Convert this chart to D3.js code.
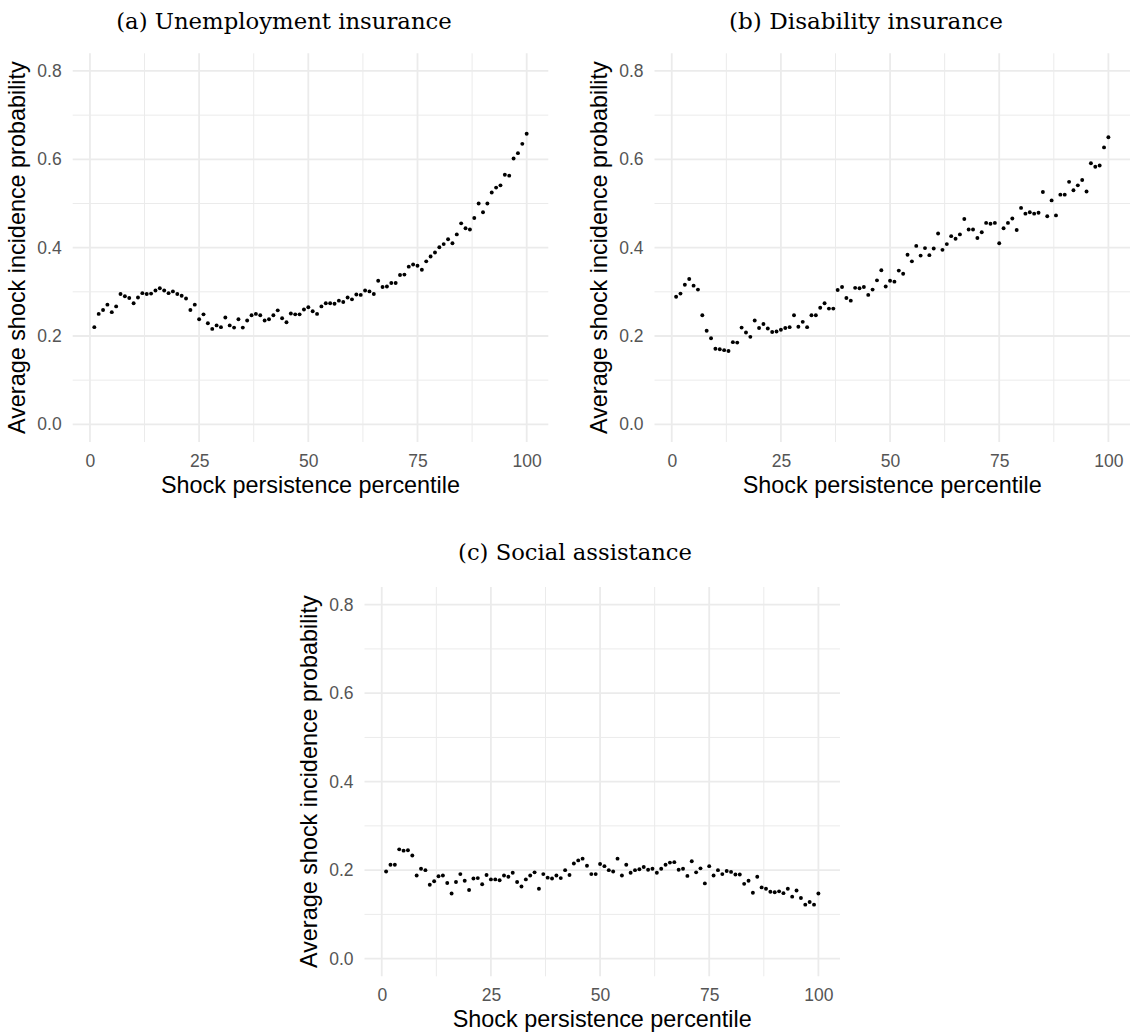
<!DOCTYPE html>
<html>
<head>
<meta charset="utf-8">
<script src="https://cdn.jsdelivr.net/npm/d3@7"></script>
<style>
  body { margin: 0; background: #fff; }
  svg { display: block; }
  .tick text { fill: #555; font-family: "Liberation Sans", Arial, sans-serif; }
  .axis-title { fill: #000; font-family: "Liberation Sans", Arial, sans-serif; }
  .panel-title { fill: #000; font-family: "DejaVu Serif", "Liberation Serif", serif; }
</style>
</head>
<body>
<svg id="chart"></svg>
<script>
// percentile of shock persistence (x axis)
const percentile = d3.range(1, 101);

// average shock incidence probability
const unemployment = [
  0.220, 0.250, 0.259, 0.271, 0.254, 0.267, 0.295, 0.290, 0.286, 0.274,
  0.287, 0.297, 0.295, 0.296, 0.303, 0.308, 0.303, 0.297, 0.301, 0.295,
  0.291, 0.285, 0.259, 0.271, 0.238, 0.249, 0.229, 0.216, 0.224, 0.220,
  0.242, 0.224, 0.219, 0.238, 0.219, 0.235, 0.247, 0.250, 0.247, 0.235,
  0.238, 0.247, 0.258, 0.240, 0.231, 0.251, 0.249, 0.249, 0.260, 0.265,
  0.256, 0.250, 0.267, 0.274, 0.274, 0.273, 0.280, 0.277, 0.287, 0.283,
  0.294, 0.293, 0.303, 0.301, 0.295, 0.325, 0.311, 0.312, 0.320, 0.320,
  0.338, 0.339, 0.357, 0.362, 0.359, 0.350, 0.369, 0.380, 0.389, 0.401,
  0.408, 0.419, 0.410, 0.430, 0.455, 0.444, 0.441, 0.467, 0.500, 0.480,
  0.500, 0.525, 0.536, 0.541, 0.565, 0.563, 0.602, 0.614, 0.635, 0.658
];

const disability = [
  0.289, 0.296, 0.316, 0.329, 0.314, 0.305, 0.247, 0.212, 0.195, 0.171,
  0.170, 0.168, 0.166, 0.186, 0.185, 0.219, 0.208, 0.198, 0.235, 0.218,
  0.227, 0.217, 0.209, 0.210, 0.214, 0.218, 0.220, 0.247, 0.221, 0.232,
  0.220, 0.247, 0.247, 0.264, 0.274, 0.262, 0.262, 0.304, 0.311, 0.286,
  0.280, 0.309, 0.308, 0.311, 0.293, 0.305, 0.326, 0.349, 0.312, 0.325,
  0.323, 0.348, 0.341, 0.384, 0.369, 0.404, 0.382, 0.399, 0.383, 0.398,
  0.432, 0.395, 0.408, 0.426, 0.420, 0.430, 0.465, 0.441, 0.441, 0.422,
  0.435, 0.456, 0.454, 0.456, 0.410, 0.444, 0.456, 0.466, 0.440, 0.490,
  0.477, 0.480, 0.477, 0.479, 0.526, 0.471, 0.507, 0.473, 0.520, 0.520,
  0.549, 0.530, 0.541, 0.553, 0.527, 0.591, 0.583, 0.586, 0.627, 0.650
];

const socialAssistance = [
  0.197, 0.212, 0.212, 0.247, 0.244, 0.245, 0.233, 0.188, 0.203, 0.200,
  0.167, 0.175, 0.186, 0.188, 0.171, 0.147, 0.173, 0.191, 0.176, 0.155,
  0.181, 0.182, 0.168, 0.189, 0.179, 0.179, 0.177, 0.188, 0.185, 0.194,
  0.173, 0.163, 0.179, 0.188, 0.195, 0.158, 0.191, 0.183, 0.181, 0.188,
  0.182, 0.200, 0.189, 0.215, 0.222, 0.226, 0.210, 0.191, 0.191, 0.214,
  0.209, 0.200, 0.197, 0.226, 0.188, 0.212, 0.194, 0.200, 0.202, 0.207,
  0.201, 0.203, 0.194, 0.203, 0.212, 0.217, 0.218, 0.201, 0.203, 0.187,
  0.220, 0.195, 0.204, 0.170, 0.209, 0.188, 0.200, 0.191, 0.198, 0.196,
  0.190, 0.190, 0.169, 0.176, 0.149, 0.185, 0.161, 0.158, 0.151, 0.150,
  0.152, 0.148, 0.158, 0.140, 0.154, 0.137, 0.122, 0.128, 0.122, 0.147
];

const panelTitles = ['(a) Unemployment insurance', '(b) Disability insurance', '(c) Social assistance'];
const xTitle = 'Shock persistence percentile';
const yTitle = 'Average shock incidence probability';
const xMajor = [0, 25, 50, 75, 100];
const xMinor = [12.5, 37.5, 62.5, 87.5];
const yMajor = [0, 0.2, 0.4, 0.6, 0.8];
const yMinor = [0.1, 0.3, 0.5, 0.7];

const width = 1130, height = 1036;
const svg = d3.select('#chart').attr('width', width).attr('height', height);

// panel boxes (plot area) and title placement
const panels = [
  {values: unemployment, left: 72.7, right: 548.3, top: 53.3, bottom: 442, titleX: 284, titleY: 28.5, titleW: 336},
  {values: disability, left: 654.5, right: 1130, top: 53.3, bottom: 442, titleX: 866, titleY: 28.5, titleW: 274},
  {values: socialAssistance, left: 364.5, right: 840, top: 587, bottom: 976.3, titleX: 575, titleY: 560, titleW: 234}
];

panels.forEach((p, i) => drawPanel(p, panelTitles[i]));

function drawPanel(p, title) {
  // ggplot default: 5% expansion on each side (x: 1..100, y limits 0..0.8)
  const x = d3.scaleLinear().domain([1 - 0.05 * 99, 100 + 0.05 * 99]).range([p.left, p.right]);
  const y = d3.scaleLinear().domain([-0.04, 0.84]).range([p.bottom, p.top]);

  const g = svg.append('g');

  // grid
  g.selectAll('.vminor').data(xMinor).join('line')
      .attr('x1', d => x(d)).attr('x2', d => x(d))
      .attr('y1', p.top).attr('y2', p.bottom)
      .attr('stroke', '#ebebeb').attr('stroke-width', 1);
  g.selectAll('.hminor').data(yMinor).join('line')
      .attr('x1', p.left).attr('x2', p.right)
      .attr('y1', d => y(d)).attr('y2', d => y(d))
      .attr('stroke', '#ebebeb').attr('stroke-width', 1);
  g.selectAll('.vmajor').data(xMajor).join('line')
      .attr('x1', d => x(d)).attr('x2', d => x(d))
      .attr('y1', p.top).attr('y2', p.bottom)
      .attr('stroke', '#ebebeb').attr('stroke-width', 1.8);
  g.selectAll('.hmajor').data(yMajor).join('line')
      .attr('x1', p.left).attr('x2', p.right)
      .attr('y1', d => y(d)).attr('y2', d => y(d))
      .attr('stroke', '#ebebeb').attr('stroke-width', 1.8);

  // axes (no ticks, no domain line)
  const xAxis = g.append('g')
      .attr('transform', `translate(0,${p.bottom})`)
      .call(d3.axisBottom(x).tickValues(xMajor).tickSize(0).tickPadding(12.5).tickFormat(d3.format('d')));
  xAxis.select('.domain').remove();
  xAxis.selectAll('text').style('font-size', '17.5px');

  const yAxis = g.append('g')
      .attr('transform', `translate(${p.left},0)`)
      .call(d3.axisLeft(y).tickValues(yMajor).tickSize(0).tickPadding(11).tickFormat(d3.format('.1f')));
  yAxis.select('.domain').remove();
  yAxis.selectAll('text').style('font-size', '17.5px');

  // points
  g.selectAll('circle')
      .data(percentile.map((d, j) => [d, p.values[j]]))
      .join('circle')
      .attr('cx', d => x(d[0]))
      .attr('cy', d => y(d[1]))
      .attr('r', 1.95)
      .attr('fill', '#000');

  // axis titles
  g.append('text')
      .attr('class', 'axis-title')
      .attr('x', (p.left + p.right) / 2)
      .attr('y', p.bottom + 50.6)
      .attr('text-anchor', 'middle')
      .style('font-size', '23.4px')
      .text(xTitle);

  g.append('text')
      .attr('class', 'axis-title')
      .attr('transform', `translate(${p.left - 48},${(p.top + p.bottom) / 2}) rotate(-90)`)
      .attr('text-anchor', 'middle')
      .style('font-size', '23.4px')
      .text(yTitle);

  // panel title, sized to the width it has in the figure
  const t = svg.append('text')
      .attr('class', 'panel-title')
      .attr('x', p.titleX)
      .attr('y', p.titleY)
      .attr('text-anchor', 'middle')
      .style('font-size', '20px')
      .text(title);
  const w = t.node().getComputedTextLength();
  t.style('font-size', (20 * p.titleW / w) + 'px');
}
</script>
</body>
</html>
